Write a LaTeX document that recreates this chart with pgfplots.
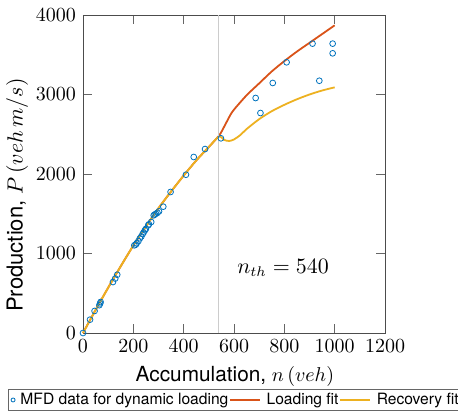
\documentclass[border=0pt]{standalone}
\usepackage{fontspec}
\setmainfont{TeX Gyre Heros}
\usepackage{pgfplots}
\pgfplotsset{compat=1.18}

\definecolor{mblue}{rgb}{0,0.447,0.741}
\definecolor{mred}{rgb}{0.851,0.325,0.098}
\definecolor{myel}{rgb}{0.929,0.694,0.125}

% short legend images, as in the reference
\pgfplotsset{
  shortline/.style={legend image code/.code={\draw[##1] (0pt,0pt) -- (15pt,0pt);}},
  smallmark/.style={legend image code/.code={\draw[##1] plot[only marks] coordinates {(0pt,0pt)};}},
}

\begin{document}
\begin{tikzpicture}
  \begin{axis}[
    name=ax,
    width=151pt, height=159pt, scale only axis,
    xmin=0, xmax=1200, ymin=0, ymax=4000,
    xtick={0,200,...,1200}, ytick={0,1000,...,4000},
    /pgf/number format/1000 sep={},
    tick align=inside, axis line style={black!70}, tick style={black!60},
    xlabel={Accumulation, $n\,(veh)$},
    ylabel={Production, $P\,(veh\,m/s)$},
    xlabel style={at={(axis description cs:0.503,-0.138)}, anchor=center,
      font=\fontsize{10.4}{12}\selectfont},
    ylabel style={at={(axis description cs:-0.218,0.434)}, anchor=center,
      font=\fontsize{11}{13}\selectfont},
    legend columns=3,
    legend style={at={(axis description cs:-0.2474,-0.176)}, anchor=north west,
      font=\fontsize{7.8}{9}\selectfont,
      draw=black!60, inner sep=1.2pt, nodes={inner sep=0.5pt},
      /tikz/every even column/.append style={column sep=0pt},
      /tikz/every odd column/.append style={column sep=2.2pt}},
    legend cell align=left,
    clip=false,
  ]
    % data points
    \addplot[only marks, mark=o, mark size=1.45pt, mblue, forget plot] coordinates {
      (0,0) (28,168) (46,277) (65,350) (68,372) (70,390)
      (119,641) (128,685) (136,733)
      (204,1103) (210,1112) (213,1128) (220,1155) (226,1191) (232,1215)
      (237,1245) (241,1265) (246,1292) (250,1310) (259,1355) (262,1368)
      (271,1396) (281,1480) (285,1490) (290,1501) (296,1512) (302,1530)
      (319,1589) (348,1774) (409,1991) (440,2214) (485,2314) (548,2449)
      (686,2956) (705,2767) (754,3145) (809,3405) (912,3640) (939,3173)
      (992,3640) (992,3518)
    };
    \addlegendimage{mblue, mark=o, mark size=1pt, smallmark}
    \addlegendentry{MFD data for dynamic loading}

    % loading fit
    \addplot[mred, line width=0.9pt, smooth, shortline] coordinates {
      (0,0) (50,290) (100,570) (150,840) (200,1100) (250,1340) (300,1570)
      (350,1780) (400,1980) (450,2170) (500,2340) (540,2480)
      (555,2560) (570,2650) (585,2740) (600,2810) (650,2990) (700,3140)
      (750,3290) (800,3420) (850,3540) (900,3650) (950,3760) (1000,3870)
    };
    \addlegendentry{Loading fit}

    % recovery fit
    \addplot[myel, line width=0.9pt, smooth, shortline] coordinates {
      (0,0) (50,290) (100,570) (150,840) (200,1100) (250,1340) (300,1570)
      (350,1780) (400,1980) (450,2170) (500,2340) (540,2470)
      (560,2430) (580,2415) (600,2435) (625,2490) (650,2565) (700,2690)
      (750,2790) (800,2870) (850,2940) (900,3000) (950,3050) (1000,3090)
    };
    \addlegendentry{Recovery fit}

    \draw[black!20, line width=0.5pt] (axis cs:540,0) -- (axis cs:540,4000);
    \node[font=\fontsize{10.5}{12}\selectfont] at (axis cs:795,818) {$n_{th}=540$};
  \end{axis}
  % page frame as in the reference (legend runs past the right edge)
  \pgfresetboundingbox
  \path[use as bounding box] ([shift={(-41.5pt,-41.5pt)}]ax.south west)
    rectangle ([shift={(187.5pt,166.5pt)}]ax.south west);
\end{tikzpicture}
\end{document}
